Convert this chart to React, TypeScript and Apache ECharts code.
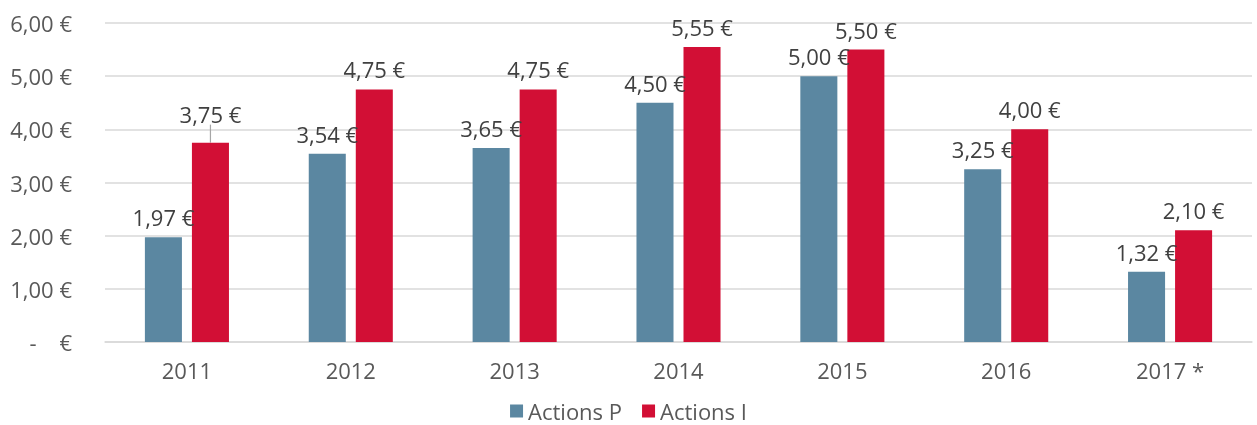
import React, { useEffect, useRef } from "react";
import * as echarts from "echarts";

const categories = ["2011", "2012", "2013", "2014", "2015", "2016", "2017 *"];
const actionsP = [1.97, 3.54, 3.65, 4.5, 5.0, 3.25, 1.32];
const actionsI = [3.75, 4.75, 4.75, 5.55, 5.5, 4.0, 2.1];
const yTicks = [0, 1, 2, 3, 4, 5, 6];

const fmt = (v: number) =>
  v === 0 ? "-\u00A0\u00A0\u00A0\u00A0€" : v.toFixed(2).replace(".", ",") + " €";

const FONT = "'Open Sans', sans-serif";

export default function App() {
  const ref = useRef<HTMLDivElement>(null);
  useEffect(() => {
    if (!ref.current) return;
    const chart = echarts.init(ref.current, undefined, { renderer: "svg" });
    const labelStyle = {
      show: true,
      position: "top" as const,
      distance: 9,
      color: "#404040",
      fontFamily: FONT,
      fontSize: 22,
      formatter: (p: any) => fmt(p.value),
    };
    chart.setOption({
      animation: false,
      textStyle: { fontFamily: FONT },
      grid: { left: 105, right: 5, top: 23, bottom: 83, containLabel: false },
      legend: {
        data: ["Actions P", "Actions I"],
        top: 400,
        left: "center",
        padding: 0,
        itemWidth: 13,
        itemHeight: 13,
        itemGap: 20,
        icon: "rect",
        textStyle: { color: "#595959", fontSize: 22, lineHeight: 22, fontFamily: FONT },
      },
      xAxis: {
        type: "category",
        data: categories,
        axisLine: { lineStyle: { color: "#D9D9D9", width: 1.5 } },
        axisTick: { show: false },
        axisLabel: { color: "#595959", fontSize: 22, fontFamily: FONT, margin: 17 },
      },
      yAxis: {
        type: "value",
        min: yTicks[0],
        max: yTicks[yTicks.length - 1],
        interval: 1,
        axisLine: { show: false },
        axisTick: { show: false },
        splitLine: { lineStyle: { color: "#D9D9D9", width: 1.5 } },
        axisLabel: {
          color: "#595959",
          fontSize: 22,
          fontFamily: FONT,
          margin: 33,
          formatter: (v: number) => fmt(v),
        },
      },
      series: [
        {
          name: "Actions P",
          type: "bar",
          data: actionsP,
          barWidth: "22.6%",
          barGap: "27%",
          itemStyle: { color: "#5B87A1" },
          label: labelStyle,
        },
        {
          name: "Actions I",
          type: "bar",
          data: actionsI.map((v, i) =>
            i === 0
              ? { value: v, labelLine: { show: true, lineStyle: { color: "#A6A6A6", width: 1.2 } } }
              : v
          ),
          barWidth: "22.6%",
          itemStyle: { color: "#D20F35" },
          label: labelStyle,
          labelLayout: (p: any) => (p.dataIndex === 0 ? { dy: -9 } : {}),
          labelLine: { show: false },
        },
      ],
    });
    return () => chart.dispose();
  }, []);
  return (
    <div
      ref={ref}
      style={{ position: "fixed", left: 0, top: 0, width: 1257, height: 425 }}
    />
  );
}
